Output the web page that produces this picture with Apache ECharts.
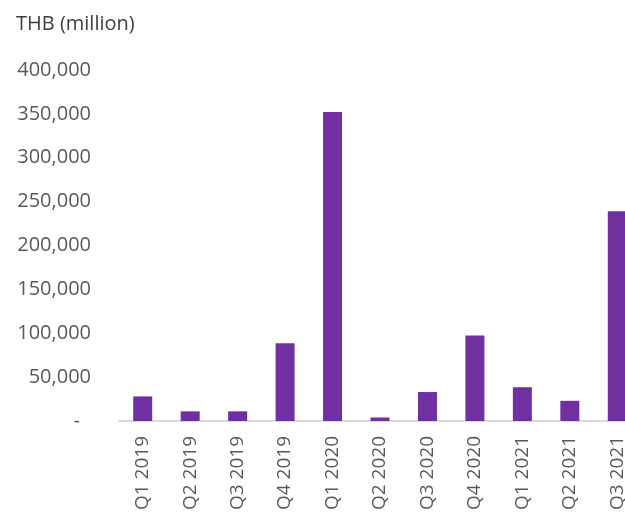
<!DOCTYPE html>
<html>
<head>
<meta charset="utf-8">
<script src="https://cdn.jsdelivr.net/npm/echarts@6/dist/echarts.min.js"></script>
<style>
  html, body { margin: 0; padding: 0; background: #ffffff; }
  #chart { width: 625px; height: 516px; }
</style>
</head>
<body>
<div id="chart"></div>
<script>
// Quarterly amounts, THB million
const quarters = ['Q1 2019', 'Q2 2019', 'Q3 2019', 'Q4 2019', 'Q1 2020', 'Q2 2020',
                  'Q3 2020', 'Q4 2020', 'Q1 2021', 'Q2 2021', 'Q3 2021'];
const amounts = [28000, 11000, 11000, 88500, 352000, 4000, 33000, 97500, 38500, 23000, 239000];
const unitLabel = 'THB (million)';
const yTicks = { min: 0, max: 400000, step: 50000 };

const FONT = '"Open Sans", sans-serif';

const chart = echarts.init(document.getElementById('chart'), null, { renderer: 'canvas' });

chart.setOption({
  animation: false,
  backgroundColor: '#ffffff',
  title: {
    text: unitLabel,
    left: 11,
    top: 9,
    textStyle: { fontFamily: FONT, fontSize: 20, fontWeight: 'normal', color: '#404040' }
  },
  // plot area runs past the right edge so the last category is clipped
  grid: { left: 119, width: 522, top: 70, bottom: 95, containLabel: false, outerBoundsMode: 'none' },
  xAxis: {
    type: 'category',
    data: quarters,
    axisLine: { lineStyle: { color: '#d9d9d9', width: 2 } },
    axisTick: { show: false },
    axisLabel: {
      rotate: 90,
      margin: 15,
      interval: 0,
      fontFamily: FONT,
      fontSize: 19,
      color: '#595959'
    }
  },
  yAxis: {
    type: 'value',
    min: yTicks.min,
    max: yTicks.max,
    interval: yTicks.step,
    axisLine: { show: false },
    axisTick: { show: false },
    splitLine: { show: false },
    axisLabel: {
      margin: 28,
      fontFamily: FONT,
      fontSize: 20,
      color: '#595959',
      formatter: function (v) {
        return v === 0 ? '{dash|-}' : v.toLocaleString('en-US');
      },
      rich: {
        dash: { fontFamily: FONT, fontSize: 20, color: '#595959', padding: [0, 11, 0, 0] }
      }
    }
  },
  series: [{
    type: 'bar',
    data: amounts,
    barWidth: 19,
    itemStyle: { color: '#7030a0' }
  }]
});
</script>
</body>
</html>
